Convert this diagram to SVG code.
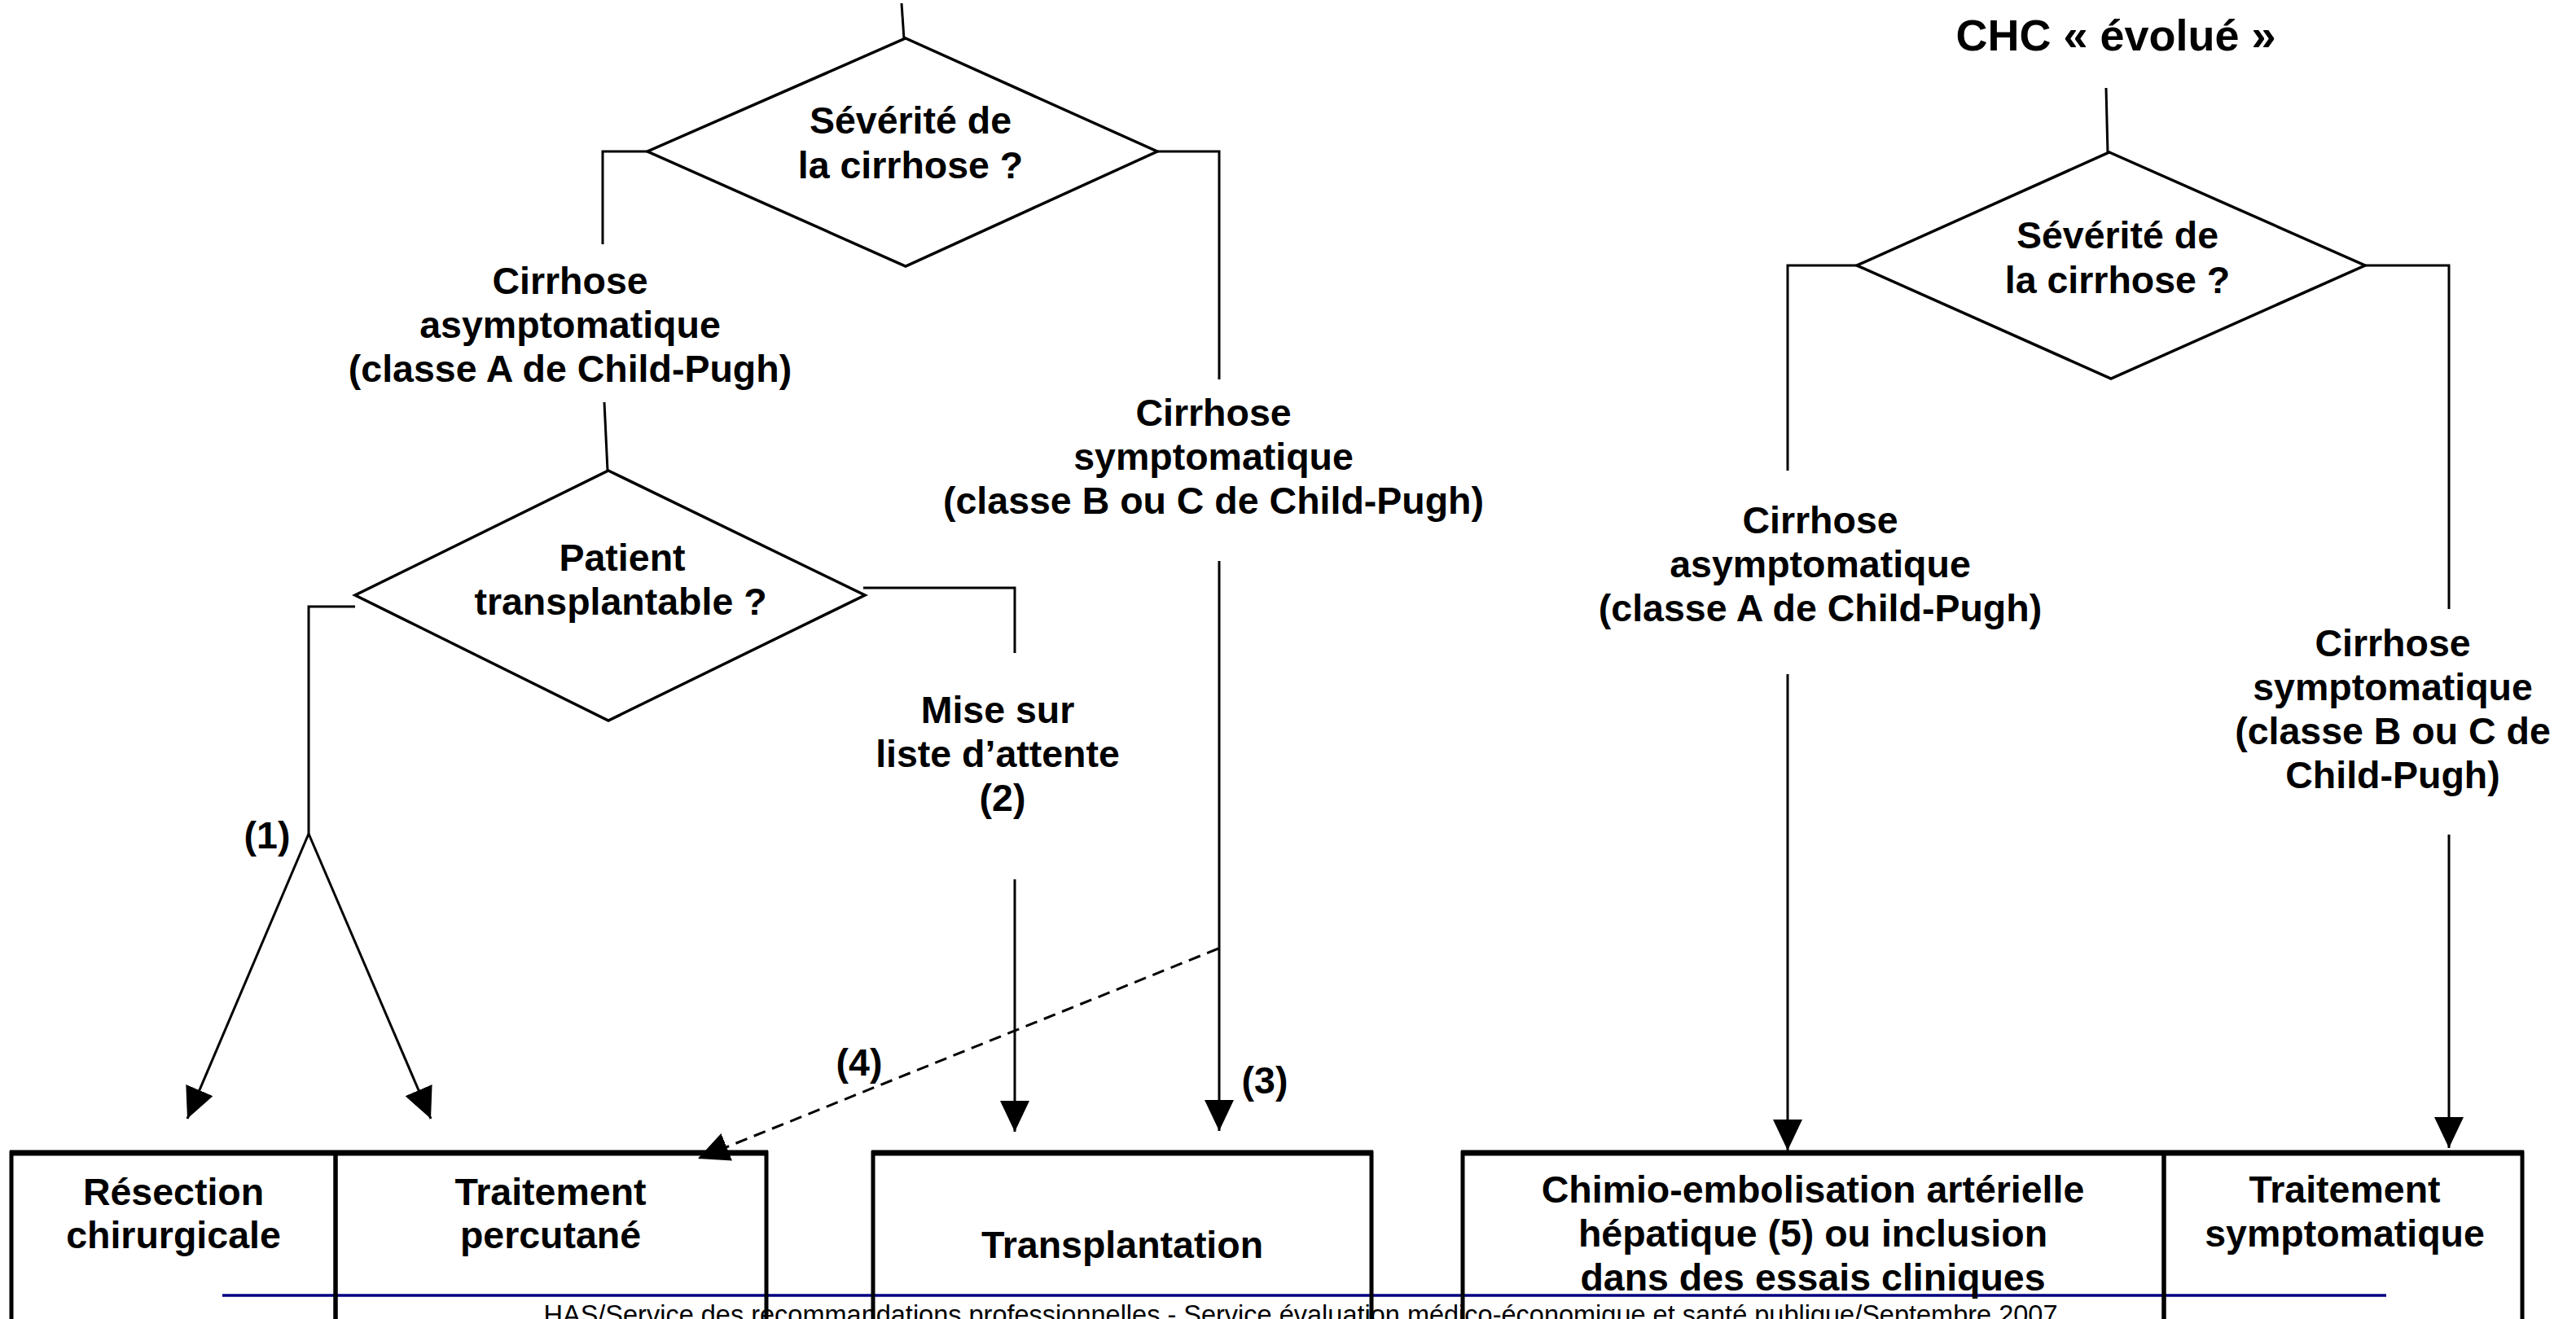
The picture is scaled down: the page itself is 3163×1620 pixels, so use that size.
<svg xmlns="http://www.w3.org/2000/svg" width="3163" height="1620" viewBox="0 0 3163 1620">
<style>
  .t { font-family: "Liberation Sans", Arial, sans-serif; font-weight: bold; font-size: 46.5px; fill: #000; text-anchor: middle; }
  .title { font-size: 54px; }
  .dia { fill: #fff; stroke: #000; stroke-width: 3.5; }
  .ln { fill: none; stroke: #000; stroke-width: 3; }
  .arr { fill: none; stroke: #000; stroke-width: 3; marker-end: url(#ah); }
  .dash { fill: none; stroke: #000; stroke-width: 3; stroke-dasharray: 15 9; marker-end: url(#ah); }
  .box { fill: none; stroke: #000; stroke-width: 5; }
  .boxtop { stroke: #000; stroke-width: 7; }
  .foot { font-family: "Liberation Sans", Arial, sans-serif; font-size: 32.5px; fill: #000; text-anchor: middle; }
</style>
<defs>
  <marker id="ah" markerUnits="userSpaceOnUse" markerWidth="40" markerHeight="36" refX="38" refY="18" orient="auto">
    <path d="M0,0 L38,18 L0,36 Z" fill="#000"/>
  </marker>
</defs>
<rect width="3163" height="1620" fill="#fff"/>

<g id="footer">
  <line x1="273" y1="1591" x2="2930" y2="1591" stroke="#000080" stroke-width="3.5"/>
  <text class="foot" x="1597" y="1626">HAS/Service des recommandations professionnelles - Service évaluation médico-économique et santé publique/Septembre 2007</text>
</g>

<g id="connectors">
  <!-- left tree -->
  <line class="ln" x1="1107" y1="4" x2="1110" y2="48"/>
  <polyline class="ln" points="795,186 740,186 740,300"/>
  <polyline class="ln" points="1421,186 1497,186 1497,466"/>
  <line class="ln" x1="742" y1="494" x2="746" y2="578"/>
  <polyline class="ln" points="436,745 379,745 379,1024"/>
  <polyline class="ln" points="1060,722 1246,722 1246,802"/>
  <line class="arr" x1="379" y1="1024" x2="230" y2="1374"/>
  <line class="arr" x1="379" y1="1024" x2="529" y2="1374"/>
  <line class="arr" x1="1246" y1="1080" x2="1246" y2="1390"/>
  <line class="arr" x1="1497" y1="689" x2="1497" y2="1389"/>
  <line class="dash" x1="1496" y1="1165" x2="857" y2="1423"/>
  <!-- right tree -->
  <line class="ln" x1="2586" y1="108" x2="2588" y2="188"/>
  <polyline class="ln" points="2281,326 2195,326 2195,578"/>
  <polyline class="ln" points="2903,326 3007,326 3007,748"/>
  <line class="arr" x1="2195" y1="828" x2="2195" y2="1413"/>
  <line class="arr" x1="3007" y1="1025" x2="3007" y2="1410"/>
</g>

<g id="title">
  <text class="t title" x="2598" y="62">CHC « évolué »</text>
</g>

<g id="diamond-severite-1">
  <polygon class="dia" points="1112,47 1421,186 1112,327 795,186"/>
  <text class="t" x="1118" y="164">Sévérité de</text>
  <text class="t" x="1118" y="219">la cirrhose ?</text>
</g>

<g id="label-asympto-1">
  <text class="t" x="700" y="361">Cirrhose</text>
  <text class="t" x="700" y="415">asymptomatique</text>
  <text class="t" x="700" y="469">(classe A de Child-Pugh)</text>
</g>

<g id="label-sympto-1">
  <text class="t" x="1490" y="523">Cirrhose</text>
  <text class="t" x="1490" y="577">symptomatique</text>
  <text class="t" x="1490" y="631">(classe B ou C de Child-Pugh)</text>
</g>

<g id="diamond-transplantable">
  <polygon class="dia" points="747,578 1062,731 747,885 436,731"/>
  <text class="t" x="764" y="701">Patient</text>
  <text class="t" x="762" y="755">transplantable ?</text>
</g>

<g id="label-liste">
  <text class="t" x="1225" y="888">Mise sur</text>
  <text class="t" x="1225" y="942">liste d’attente</text>
  <text class="t" x="1231" y="996">(2)</text>
</g>

<g id="label-1"><text class="t" x="328" y="1042">(1)</text></g>
<g id="label-3"><text class="t" x="1553" y="1343">(3)</text></g>
<g id="label-4"><text class="t" x="1055" y="1321">(4)</text></g>

<g id="diamond-severite-2">
  <polygon class="dia" points="2590,187 2904,326 2592,465 2280,326"/>
  <text class="t" x="2600" y="305">Sévérité de</text>
  <text class="t" x="2600" y="360">la cirrhose ?</text>
</g>

<g id="label-asympto-2">
  <text class="t" x="2235" y="655">Cirrhose</text>
  <text class="t" x="2235" y="709">asymptomatique</text>
  <text class="t" x="2235" y="763">(classe A de Child-Pugh)</text>
</g>

<g id="label-sympto-2">
  <text class="t" x="2938" y="806">Cirrhose</text>
  <text class="t" x="2938" y="860">symptomatique</text>
  <text class="t" x="2938" y="914">(classe B ou C de</text>
  <text class="t" x="2938" y="968">Child-Pugh)</text>
</g>

<g id="box-resection">
  <rect class="box" x="14" y="1416" width="398" height="300"/>
  <line class="boxtop" x1="12" y1="1416" x2="412" y2="1416"/>
  <text class="t" x="213" y="1480">Résection</text>
  <text class="t" x="213" y="1533">chirurgicale</text>
</g>

<g id="box-percutane">
  <rect class="box" x="412" y="1416" width="529" height="300"/>
  <line class="boxtop" x1="412" y1="1416" x2="943" y2="1416"/>
  <text class="t" x="676" y="1480">Traitement</text>
  <text class="t" x="676" y="1533">percutané</text>
</g>

<g id="box-transplantation">
  <rect class="box" x="1072" y="1416" width="612" height="300"/>
  <line class="boxtop" x1="1070" y1="1416" x2="1686" y2="1416"/>
  <text class="t" x="1378" y="1545">Transplantation</text>
</g>

<g id="box-chimio">
  <rect class="box" x="1796" y="1416" width="861" height="300"/>
  <line class="boxtop" x1="1794" y1="1416" x2="2657" y2="1416"/>
  <text class="t" x="2226" y="1477">Chimio-embolisation artérielle</text>
  <text class="t" x="2226" y="1531">hépatique (5) ou inclusion</text>
  <text class="t" x="2226" y="1585">dans des essais cliniques</text>
</g>

<g id="box-symptomatique">
  <rect class="box" x="2657" y="1416" width="440" height="300"/>
  <line class="boxtop" x1="2657" y1="1416" x2="3099" y2="1416"/>
  <text class="t" x="2879" y="1477">Traitement</text>
  <text class="t" x="2879" y="1531">symptomatique</text>
</g>
</svg>
